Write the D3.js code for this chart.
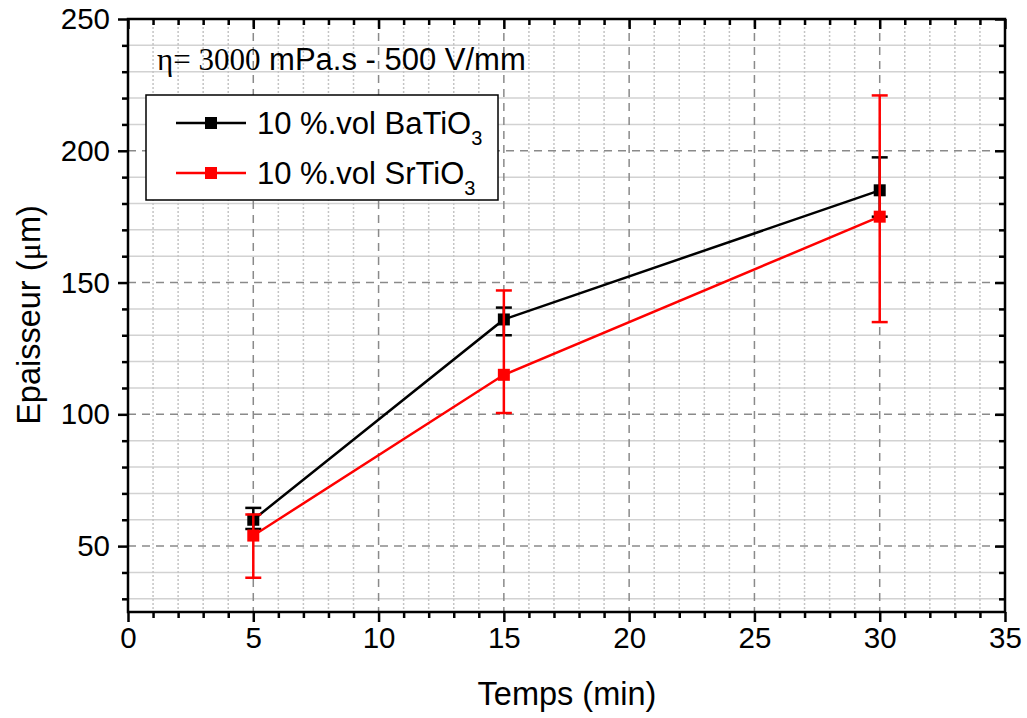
<!DOCTYPE html>
<html><head><meta charset="utf-8">
<script src="https://cdn.jsdelivr.net/npm/d3@7"></script>
<style>body{margin:0;background:#fff}svg{display:block}text{font-family:"Liberation Sans",Arial,sans-serif}</style>
</head><body><svg id="c" width="1027" height="718"></svg>
<script>
const times = [5, 15, 30];
const baValues = [60, 136, 185];
const baErrPlus = [4.5, 4.5, 12.5];
const baErrMinus = [3.5, 6, 10];
const srValues = [54, 115, 175];
const srErrPlus = [8, 32, 46];
const srErrMinus = [16, 14.5, 40];
const xTicks = [0, 5, 10, 15, 20, 25, 30, 35];
const yTicks = [50, 100, 150, 200, 250];
const seriesNames = ["10 %.vol BaTiO", "10 %.vol SrTiO"];
const seriesColors = ["#000000", "#ff0000"];

const svg = d3.select("#c");
const L = 128, R = 1005, T = 19, B = 612;
const x = d3.scaleLinear().domain([0, 35]).range([L, R]);
const y = d3.scaleLinear().domain([25, 250]).range([B, T]);

// minor grid
const xMinor = d3.range(1, 35).filter(v => v % 5 !== 0);
const yMinor = d3.range(30, 250, 10).filter(v => v % 50 !== 0);
const g = svg.append("g");
g.selectAll(".ymn").data(yMinor).join("line")
  .attr("x1", L).attr("x2", R).attr("y1", d => y(d)).attr("y2", d => y(d))
  .attr("stroke", "#d2d2d2").attr("stroke-width", 1.5);
g.selectAll(".xmn").data(xMinor).join("line")
  .attr("y1", T).attr("y2", B).attr("x1", d => x(d)).attr("x2", d => x(d))
  .attr("stroke", "#c4c4c4").attr("stroke-width", 1.5).attr("stroke-dasharray", "2,2");
// major grid
g.selectAll(".ymj").data(yTicks.filter(v => v < 250)).join("line")
  .attr("x1", L).attr("x2", R).attr("y1", d => y(d)).attr("y2", d => y(d))
  .attr("stroke", "#8a8a8a").attr("stroke-width", 1.5).attr("stroke-dasharray", "8,6");
g.selectAll(".xmj").data(xTicks.filter(v => v > 0 && v < 35)).join("line")
  .attr("y1", T).attr("y2", B).attr("x1", d => x(d)).attr("x2", d => x(d))
  .attr("stroke", "#8a8a8a").attr("stroke-width", 1.5).attr("stroke-dasharray", "8,6");

// axes
function styleAxis(sel) {
  sel.select(".domain").remove();
  sel.selectAll(".tick line").attr("stroke", "#000").attr("stroke-width", 2.5);
  sel.selectAll("text").attr("font-size", 29.5).attr("fill", "#000")
    .attr("font-family", '"Liberation Sans",Arial,sans-serif');
}
const allXT = d3.range(0, 36, 1);
const allYT = d3.range(30, 251, 10);
// bottom
svg.append("g").attr("transform", `translate(0,${B})`)
  .call(d3.axisBottom(x).tickValues(allXT).tickSize(0).tickPadding(0).tickFormat(""))
  .call(styleAxis).selectAll(".tick line").attr("y2", d => d % 5 === 0 ? 10 : 6);
svg.append("g").attr("transform", `translate(0,${B})`)
  .call(d3.axisBottom(x).tickValues(xTicks).tickSize(0).tickPadding(15))
  .call(styleAxis);
// top (inward)
svg.append("g").attr("transform", `translate(0,${T})`)
  .call(d3.axisTop(x).tickValues(allXT).tickSize(0).tickFormat(""))
  .call(styleAxis).selectAll(".tick line").attr("y2", d => d % 5 === 0 ? 10 : 6);
// left
svg.append("g").attr("transform", `translate(${L},0)`)
  .call(d3.axisLeft(y).tickValues(allYT).tickSize(0).tickFormat(""))
  .call(styleAxis).selectAll(".tick line").attr("x2", d => d % 50 === 0 ? -10 : -6);
svg.append("g").attr("transform", `translate(${L},0)`)
  .call(d3.axisLeft(y).tickValues(yTicks).tickSize(0).tickPadding(18))
  .call(styleAxis);
// right (inward)
svg.append("g").attr("transform", `translate(${R},0)`)
  .call(d3.axisRight(y).tickValues(allYT).tickSize(0).tickFormat(""))
  .call(styleAxis).selectAll(".tick line").attr("x2", d => d % 50 === 0 ? -10 : -6);

// frame
svg.append("rect").attr("x", L).attr("y", T).attr("width", R - L).attr("height", B - T)
  .attr("fill", "none").attr("stroke", "#000").attr("stroke-width", 2.5);

// series
const series = [
  {vals: baValues, ep: baErrPlus, em: baErrMinus, color: seriesColors[0]},
  {vals: srValues, ep: srErrPlus, em: srErrMinus, color: seriesColors[1]}
];
const line = d3.line().x(d => x(d.t)).y(d => y(d.v));
series.forEach(s => {
  const pts = times.map((t, i) => ({t, v: s.vals[i], p: s.ep[i], m: s.em[i]}));
  const sg = svg.append("g");
  sg.append("path").datum(pts).attr("d", line).attr("fill", "none")
    .attr("stroke", s.color).attr("stroke-width", 2.5);
  sg.selectAll(".eb").data(pts).join("line")
    .attr("x1", d => x(d.t)).attr("x2", d => x(d.t))
    .attr("y1", d => y(d.v + d.p)).attr("y2", d => y(d.v - d.m))
    .attr("stroke", s.color).attr("stroke-width", 2.5);
  ["p", "m"].forEach(k => {
    sg.selectAll(".cap" + k).data(pts).join("line")
      .attr("x1", d => x(d.t) - 8).attr("x2", d => x(d.t) + 8)
      .attr("y1", d => y(k === "p" ? d.v + d.p : d.v - d.m))
      .attr("y2", d => y(k === "p" ? d.v + d.p : d.v - d.m))
      .attr("stroke", s.color).attr("stroke-width", 2.5);
  });
  sg.selectAll("rect").data(pts).join("rect")
    .attr("x", d => x(d.t) - 6).attr("y", d => y(d.v) - 6)
    .attr("width", 12).attr("height", 12).attr("fill", s.color);
});

// annotation
const ann = svg.append("text").attr("x", 157).attr("y", 70).attr("font-size", 31).attr("fill", "#000");
ann.append("tspan").attr("font-family", '"Liberation Serif","Times New Roman",serif').text("η= 3000");
ann.append("tspan").text(" mPa.s - 500 V/mm");

// legend
svg.append("rect").attr("x", 146).attr("y", 95).attr("width", 352).attr("height", 105)
  .attr("fill", "#fff").attr("stroke", "#000").attr("stroke-width", 1.5);
const legY = [123, 173];
seriesNames.forEach((n, i) => {
  svg.append("line").attr("x1", 176).attr("x2", 246).attr("y1", legY[i]).attr("y2", legY[i])
    .attr("stroke", seriesColors[i]).attr("stroke-width", 2.5);
  svg.append("rect").attr("x", 205).attr("y", legY[i] - 6).attr("width", 12).attr("height", 12)
    .attr("fill", seriesColors[i]);
  const t = svg.append("text").attr("x", 257).attr("y", legY[i] + 11).attr("font-size", 31).attr("fill", "#000");
  t.append("tspan").text(n);
  t.append("tspan").attr("font-size", 20).attr("dy", 11).text("3");
});

// axis titles
svg.append("text").attr("x", 567).attr("y", 705).attr("text-anchor", "middle")
  .attr("font-size", 32.5).attr("fill", "#000").text("Temps (min)");
const yt = svg.append("text").attr("transform", "translate(40,315) rotate(-90)").attr("text-anchor", "middle")
  .attr("font-size", 32.5).attr("fill", "#000");
yt.append("tspan").text("Epaisseur (");
yt.append("tspan").attr("font-family", '"Liberation Serif","Times New Roman",serif').text("μ");
yt.append("tspan").text("m)");
</script></body></html>
